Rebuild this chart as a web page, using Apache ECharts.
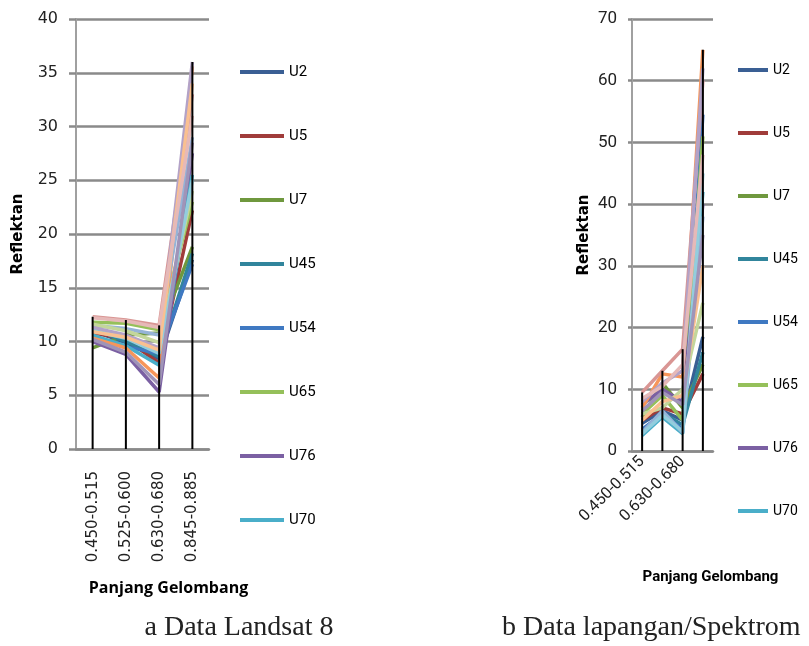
<!DOCTYPE html>
<html>
<head>
<meta charset="utf-8">
<script src="https://cdn.jsdelivr.net/npm/echarts@6/dist/echarts.min.js"></script>
<style>
	html, body { margin: 0; padding: 0; background: #fff; }
	#chart { width: 809px; height: 646px; }
</style>
</head>
<body>
<div id="chart"></div>
<script>
const categories = ["0.450-0.515", "0.525-0.600", "0.630-0.680", "0.845-0.885"];
const legendNames = ["U2", "U5", "U7", "U45", "U54", "U65", "U76", "U70"];
const seriesNames = ["U2", "U5", "U7", "U45", "U54", "U65", "U76", "U70", "U10", "U12", "U15", "U20", "U25", "U31", "U38", "U41", "U60"];

// a Data Landsat 8
const landsatValues = [
	[11.0, 9.9, 8.4, 17.6],
	[10.8, 10.2, 8.0, 22.2],
	[9.4, 10.6, 10.8, 18.8],
	[11.2, 10.0, 8.6, 18.2],
	[10.5, 9.5, 8.9, 17.2],
	[11.8, 11.7, 11.1, 23.0],
	[10.0, 8.8, 5.3, 27.5],
	[10.6, 9.6, 7.8, 25.5],
	[10.3, 9.4, 6.6, 35.6],
	[11.5, 11.2, 10.6, 29.0],
	[12.3, 12.0, 11.5, 33.0],
	[11.6, 11.0, 9.9, 24.0],
	[11.3, 10.6, 9.4, 36.0],
	[11.0, 10.3, 8.9, 25.0],
	[10.9, 10.4, 9.2, 34.0],
	[12.2, 11.9, 11.3, 31.0],
	[10.2, 9.0, 6.0, 28.5],
];

// b Data lapangan/Spektrometer
const lapanganValues = [
	[4.5, 6.5, 5.0, 18.5],
	[5.0, 7.0, 6.0, 12.5],
	[5.5, 11.0, 7.0, 14.0],
	[3.2, 6.2, 4.2, 16.0],
	[3.5, 6.0, 3.5, 54.5],
	[6.0, 9.0, 5.0, 51.0],
	[7.5, 10.0, 8.0, 40.0],
	[2.5, 5.5, 2.8, 42.0],
	[7.0, 12.5, 12.0, 65.0],
	[3.0, 6.5, 3.0, 38.0],
	[9.5, 13.0, 16.5, 60.0],
	[6.0, 7.0, 10.0, 24.0],
	[8.0, 11.0, 13.0, 62.0],
	[2.8, 5.8, 3.2, 45.0],
	[5.0, 8.0, 9.0, 30.0],
	[8.5, 10.5, 14.0, 48.0],
	[6.5, 9.5, 7.5, 35.0],
];

const lineColors = [
	"#3a5f94", "#a03c3a", "#6f983e", "#31859c", "#3f79c2", "#95c05a", "#7b60a3", "#4aaec9",
	"#f7965a", "#95b3d7", "#d99694", "#c3d69b", "#b3a2c7", "#93cddd", "#fac090", "#e6b9b8", "#a094b8",
];

const gridColor = "#8a8a8a";
const narrowFont = "'Roboto', sans-serif";

const chart = echarts.init(document.getElementById("chart"), null, { renderer: "canvas" });

// drop line height = highest value at each category
const dropLine = (rows) => categories.map((_, i) => Math.max(...rows.map(r => r[i])));

const lineSeries = (rows, idx) => rows.map((row, i) => ({
	type       : "line",
	name       : seriesNames[i],
	xAxisIndex : idx,
	yAxisIndex : idx,
	data       : row,
	symbol     : "none",
	silent     : true,
	z          : 2,
	lineStyle  : { width: 3.5, color: lineColors[i] },
	itemStyle  : { color: lineColors[i] },
}));

const dropSeries = (rows, idx) => ({
	type       : "bar",
	xAxisIndex : idx,
	yAxisIndex : idx,
	data       : dropLine(rows),
	barWidth   : 2,
	silent     : true,
	z          : 5,
	itemStyle  : { color: "#000" },
});

chart.setOption({
	animation : false,
	grid      : [
		{ left: 76, right: 600, top: 19, bottom: 197 },
		{ left: 632, right: 96, top: 19, bottom: 195 },
	],
	legend: [
		{
			data       : legendNames,
			orient     : "vertical",
			left       : 240,
			top        : 64,
			padding    : 0,
			icon       : "rect",
			itemWidth  : 44,
			itemHeight : 4,
			itemGap    : 48,
			textStyle  : { fontSize: 15, lineHeight: 16, fontFamily: narrowFont, color: "#000" },
		},
		{
			data       : legendNames,
			orient     : "vertical",
			left       : 738,
			top        : 62,
			padding    : 0,
			icon       : "rect",
			itemWidth  : 30,
			itemHeight : 4,
			itemGap    : 47,
			textStyle  : { fontSize: 14, lineHeight: 16, fontFamily: narrowFont, color: "#000" },
		},
	],
	xAxis: [
		{
			gridIndex   : 0,
			type        : "category",
			data        : categories,
			boundaryGap : true,
			axisLine    : { lineStyle: { color: gridColor, width: 2.5 } },
			axisTick    : { show: false },
			axisLabel   : { rotate: 90, fontSize: 15, fontFamily: "DejaVu Sans", color: "#222", margin: 22 },
			name          : "Panjang Gelombang",
			nameLocation  : "middle",
			nameGap       : 131,
			nameTextStyle : { fontSize: 16, fontWeight: "bold", fontFamily: "Open Sans", color: "#000", padding: [0, 0, 0, 52] },
		},
		{
			gridIndex   : 1,
			type        : "category",
			data        : categories,
			boundaryGap : true,
			axisLine    : { lineStyle: { color: gridColor, width: 2.5 } },
			axisTick    : { show: false },
			axisLabel   : { rotate: 45, interval: 1, fontSize: 16, fontFamily: narrowFont, color: "#222", margin: 8 },
			name          : "Panjang Gelombang",
			nameLocation  : "middle",
			nameGap       : 119,
			nameTextStyle : { fontSize: 15, fontWeight: "bold", fontFamily: narrowFont, color: "#000", padding: [0, 0, 0, 76] },
		},
	],
	yAxis: [
		{
			gridIndex : 0,
			type      : "value",
			min       : 0,
			max       : 40,
			interval  : 5,
			axisLine  : { show: true, lineStyle: { color: "#a0a0a0", width: 2 } },
			axisTick  : { show: true, length: 7, lineStyle: { color: gridColor, width: 2.5 } },
			splitLine : { lineStyle: { color: gridColor, width: 2.5 } },
			axisLabel : { fontSize: 16, fontFamily: "DejaVu Sans", color: "#222", margin: 18 },
			name          : "Reflektan",
			nameLocation  : "middle",
			nameRotate    : 90,
			nameGap       : 50,
			nameTextStyle : { fontSize: 15, fontWeight: "bold", fontFamily: "DejaVu Sans", color: "#000" },
		},
		{
			gridIndex : 1,
			type      : "value",
			min       : 0,
			max       : 70,
			interval  : 10,
			axisLine  : { show: true, lineStyle: { color: "#a0a0a0", width: 2 } },
			axisTick  : { show: true, length: 4, lineStyle: { color: gridColor, width: 2.5 } },
			splitLine : { lineStyle: { color: gridColor, width: 2.5 } },
			axisLabel : { fontSize: 17, fontFamily: narrowFont, color: "#222", margin: 15 },
			name          : "Reflektan",
			nameLocation  : "middle",
			nameRotate    : 90,
			nameGap       : 40,
			nameTextStyle : { fontSize: 15, fontWeight: "bold", fontFamily: "DejaVu Sans", color: "#000" },
		},
	],
	graphic: [
		{
			type  : "text",
			x     : 239,
			y     : 628,
			style : { text: "a Data Landsat 8", textAlign: "center", textVerticalAlign: "middle", font: "28px 'Liberation Serif'", fill: "#222" },
		},
		{
			type  : "text",
			x     : 502,
			y     : 628,
			style : { text: "b Data lapangan/Spektrom", textAlign: "left", textVerticalAlign: "middle", font: "28px 'Liberation Serif'", fill: "#222" },
		},
	],
	series: [
		...lineSeries(landsatValues, 0),
		dropSeries(landsatValues, 0),
		...lineSeries(lapanganValues, 1),
		dropSeries(lapanganValues, 1),
	],
});
</script>
</body>
</html>
